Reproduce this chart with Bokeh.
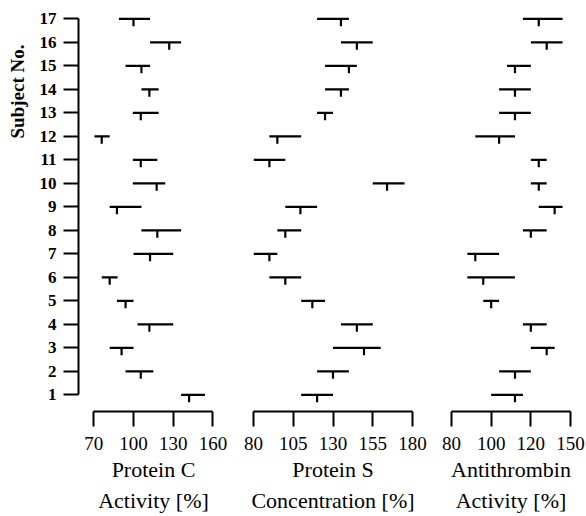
import math
from bokeh.plotting import figure
from bokeh.layouts import row
from bokeh.models import Range1d, FixedTicker, Label
from bokeh.embed import file_html
from bokeh.resources import INLINE

# ---------------- data ----------------
SUBJECTS = list(range(1, 18))

# Protein C activity [%]  (subject 1 .. 17)
PC_LOW = [136, 94, 82, 103, 87.5, 76, 100, 106, 82, 99.5, 99.5, 70.5, 99.5, 106, 94, 112.5, 89]
PC_HIGH = [154, 115, 100, 130, 100, 88, 130, 136, 106, 124, 118, 82, 119, 119, 112.5, 136, 112.5]
PC_MEAN = [142, 105.5, 91, 112, 94, 82, 112.5, 118, 87.5, 117.5, 105.5, 76, 105.5, 112, 106, 127, 100]
PC_TICKS = [70, 100, 130, 160]
PC_TICK_LABELS = ["70", "100", "130", "160"]

# Protein S concentration [%]
PS_LOW = [110, 120, 130, 135, 110, 90, 80, 95, 100, 155, 80, 90, 120, 125, 125, 135, 120]
PS_HIGH = [130, 140, 160, 155, 125, 110, 95, 110, 120, 175, 100, 110, 130, 140, 145, 155, 140]
PS_MEAN = [120, 130, 149.5, 145, 117, 100, 90, 100, 109.5, 164, 90, 95, 125, 135, 140, 145, 135]
PS_TICKS = [80, 105, 130, 155, 180]
PS_TICK_LABELS = ["80", "105", "130", "155", "180"]

# Antithrombin activity [%] (axis drawn with equally spaced ticks labelled 80/100/120/150)
AT_LOW = [100, 104, 120, 116, 96, 88, 88, 116, 124, 120, 120, 92, 104, 104, 108, 120, 116]
AT_HIGH = [116, 120, 132, 128, 104, 112, 104, 128, 136, 128, 128, 112, 120, 120, 120, 136, 136]
AT_MEAN = [112, 112, 128, 120, 100, 96, 92, 120, 132, 124, 124, 104, 112, 112, 112, 128, 124]
AT_TICKS = [80, 100, 120, 140]
AT_TICK_LABELS = ["80", "100", "120", "150"]

FONT = "Liberation Serif"
Y_LO, Y_HI = 0.29, 17.44
TICK_DEPTH = 0.32
FRAME_H = 403
TOP = 8


def panel(frame_w, x_start, x_end, bl, br, ticks, tick_labels, label,
          low, high, mean, with_y=False):
    p = figure(frame_width=frame_w, frame_height=FRAME_H,
               x_range=Range1d(x_start, x_end), y_range=Range1d(Y_LO, Y_HI),
               output_backend="svg", toolbar_location=None,
               min_border_left=bl, min_border_right=br,
               min_border_top=TOP, min_border_bottom=0,
               y_axis_location="left" if with_y else None)
    p.outline_line_color = None
    p.xgrid.visible = False
    p.ygrid.visible = False
    p.background_fill_color = "white"
    p.border_fill_color = "white"

    ax = p.xaxis[0]
    ax.ticker = FixedTicker(ticks=ticks)
    ax.major_label_overrides = {t: l for t, l in zip(ticks, tick_labels)}
    ax.bounds = (ticks[0], ticks[-1])
    ax.axis_line_width = 2
    ax.axis_line_color = "black"
    ax.major_tick_line_width = 2
    ax.major_tick_line_color = "black"
    ax.major_tick_out = 15
    ax.major_tick_in = 0
    ax.minor_tick_line_color = None
    ax.major_label_text_font = FONT
    ax.major_label_text_font_size = "19px"
    ax.major_label_text_color = "black"
    ax.major_label_standoff = 10
    ax.axis_label = label
    ax.axis_label_text_font = FONT
    ax.axis_label_text_font_size = "22px"
    ax.axis_label_text_font_style = "normal"
    ax.axis_label_text_color = "black"
    ax.axis_label_text_line_height = 1.25
    ax.axis_label_standoff = 4

    if with_y:
        ya = p.yaxis[0]
        ya.ticker = FixedTicker(ticks=SUBJECTS)
        ya.bounds = (1, 17)
        ya.axis_line_width = 2
        ya.axis_line_color = "black"
        ya.major_tick_line_width = 2
        ya.major_tick_line_color = "black"
        ya.major_tick_out = 15
        ya.major_tick_in = 0
        ya.minor_tick_line_color = None
        ya.major_label_text_font = FONT
        ya.major_label_text_font_size = "17px"
        ya.major_label_text_font_style = "bold"
        ya.major_label_text_color = "black"
        ya.major_label_standoff = 7

    p.segment(x0=low, y0=SUBJECTS, x1=high, y1=SUBJECTS, line_width=2.2, line_color="black")
    p.segment(x0=mean, y0=SUBJECTS, x1=mean, y1=[s - TICK_DEPTH for s in SUBJECTS],
              line_width=2.2, line_color="black")
    return p


# narrow figure holding the y-axis title near the top
p0 = figure(frame_width=30, frame_height=FRAME_H, output_backend="svg", toolbar_location=None,
            x_axis_location=None, y_axis_location=None,
            min_border_left=0, min_border_right=0, min_border_top=TOP, min_border_bottom=0)
p0.outline_line_color = None
p0.xgrid.visible = False
p0.ygrid.visible = False
p0.add_layout(Label(x=17, y=FRAME_H - 83, x_units="screen", y_units="screen",
                    text="Subject No.", angle=math.pi / 2,
                    text_font=FONT, text_font_size="19px", text_font_style="bold",
                    text_align="center", text_baseline="middle", text_color="black"))

pa = panel(150, 58.44, 171.8, 48, 0, PC_TICKS, PC_TICK_LABELS, "Protein C\nActivity [%]",
           PC_LOW, PC_HIGH, PC_MEAN, with_y=True)
pb = panel(159, 80, 180, 25, 20, PS_TICKS, PS_TICK_LABELS, "Protein S\nConcentration [%]",
           PS_LOW, PS_HIGH, PS_MEAN)
pc = panel(119, 80, 140, 19, 15, AT_TICKS, AT_TICK_LABELS, "Antithrombin\nActivity [%]",
           AT_LOW, AT_HIGH, AT_MEAN)

layout = row(p0, pa, pb, pc)
open("out.html", "w").write(file_html(layout, INLINE))
